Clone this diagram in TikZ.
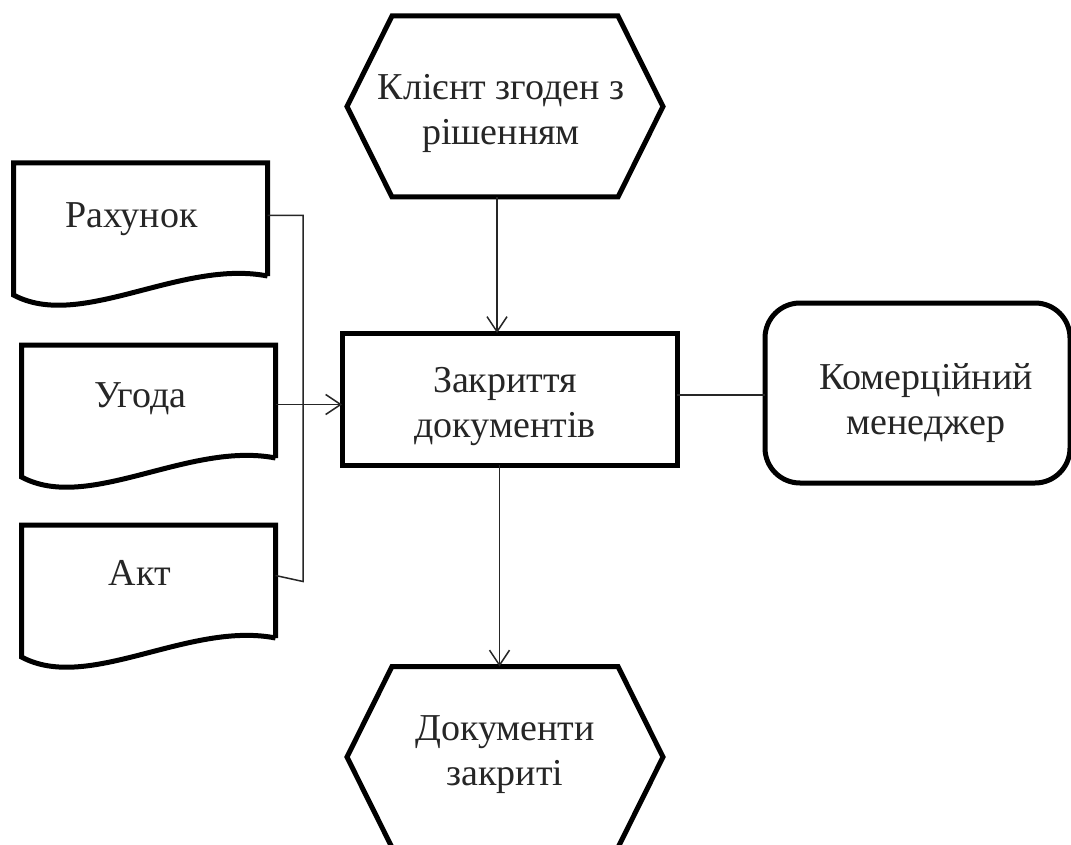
\documentclass[tikz,border=0pt]{standalone}
\usepackage{fontspec}
\setmainfont{Liberation Serif}
\usetikzlibrary{arrows.meta,calc}

% outline of a flow-chart "document": flat top, wavy bottom edge
\newcommand\docoutline[1]{%
  \draw[shapeline] (#1.south east) -- (#1.north east) -- (#1.north west)
    -- ([yshift=-19pt]#1.south west)
    .. controls ([shift={(67pt,-55pt)}]#1.south west)
       and ([shift={(-87pt,17pt)}]#1.south east) .. (#1.south east);}
% outline of an elongated hexagon with the given corner inset
\newcommand\hexoutline[2]{%
  \draw[shapeline] ([xshift=#2]#1.north west) -- ([xshift=-#2]#1.north east)
    -- (#1.east) -- ([xshift=-#2]#1.south east) -- ([xshift=#2]#1.south west)
    -- (#1.west) -- cycle;}

\tikzset{
  shapeline/.style={line width=5pt, line join=miter, black},
  frame/.style={inner sep=0pt, outer sep=0pt},
  txt/.style={font=\fontsize{38pt}{45pt}\selectfont, align=center,
              inner sep=0pt, outer sep=0pt, text=black!85},
  docnode/.style={frame, minimum width=254pt, minimum height=113pt},
  hexnode/.style={frame, minimum width=316pt, minimum height=181pt},
  procbox/.style={frame, draw, line width=5pt, minimum width=335pt, minimum height=132pt},
  rolebox/.style={frame, draw, line width=5pt, rounded corners=35pt,
                  minimum width=305pt, minimum height=180pt},
  conn/.style={line width=1.5pt, black!85},
  arr/.style={conn, -{Straight Barb[length=15pt,width=20pt]}}
}

\begin{document}
\begin{tikzpicture}[x=1pt,y=-1pt]
\useasboundingbox (0,0) rectangle (1071,845);
\clip (0,0) rectangle (1071,845);
\fill[white] (0,0) rectangle (1071,845);

% start and end events
\node[hexnode] (start) at (505,106.5) {};
\hexoutline{start}{45pt}
\node[txt] (startlbl) at ($(start)+(-4,7)$) {Клієнт згоден з\\рішенням};
\node[hexnode] (finish) at (505,757) {};
\hexoutline{finish}{45pt}
\node[txt] (finishlbl) at ($(finish)+(0,-2)$) {Документи\\закриті};

% input documents
\node[docnode] (rax) at (140.5,219.5) {};
\docoutline{rax}
\node[txt] (raxlbl) at ($(rax)+(-9,0)$) {Рахунок};
\node[docnode] (ugo) at (148.5,401.5) {};
\docoutline{ugo}
\node[txt] (ugolbl) at ($(ugo)+(-8,-2.5)$) {Угода};
\node[docnode] (akt) at (148.5,581.5) {};
\docoutline{akt}
\node[txt] (aktlbl) at ($(akt)+(-8.5,-8.5)$) {Акт};

% process step and responsible role
\node[procbox] (close) at (509.5,399) {};
\node[txt] (closelbl) at ($(close)+(-4.5,7.5)$) {Закриття\\документів};
\node[rolebox] (mgr) at (917.5,393) {};
\node[txt] (mgrlbl) at ($(mgr)+(8.5,10)$) {Комерційний\\менеджер};

% connectors
\coordinate (bus) at (303,0);
\draw[conn] ([yshift=4pt]rax.east) -| (bus |- akt.east) -- ([yshift=6pt]akt.east);
\draw[arr] ([yshift=-3pt]ugo.east) -- ([yshift=-3pt]ugo.east -| close.west);
\draw[arr] ([xshift=-8pt]start.south) -- ([xshift=-8pt]start.south |- close.north);
\draw[arr] ([xshift=-10pt]close.south) -- ([xshift=-10pt]close.south |- finish.north);
\draw[conn] ([yshift=4pt]close.east) -- ([yshift=4pt]close.east -| mgr.west);
\end{tikzpicture}
\end{document}
